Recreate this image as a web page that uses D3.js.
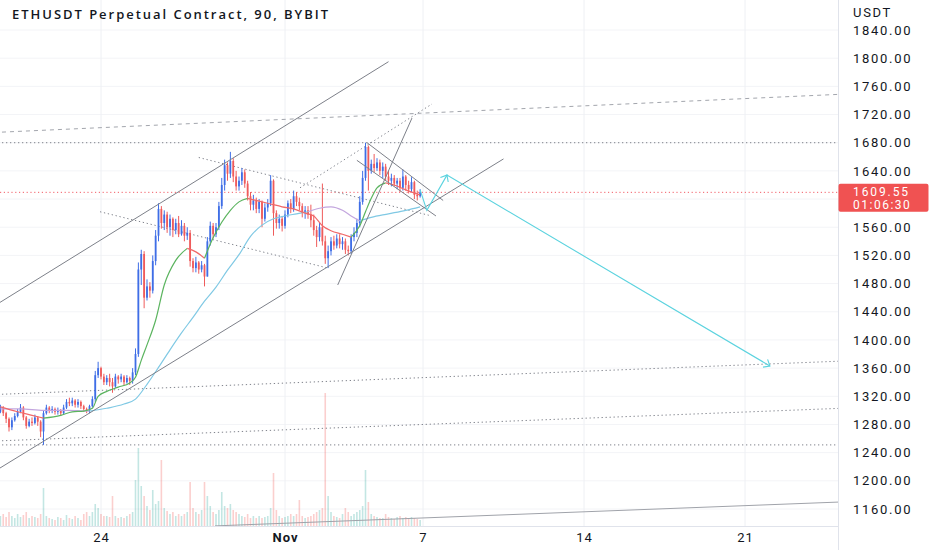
<!DOCTYPE html>
<html><head><meta charset="utf-8">
<script src="https://cdnjs.cloudflare.com/ajax/libs/d3/7.8.5/d3.min.js"></script>
<style>
html,body{margin:0;padding:0;background:#fff;}
svg{display:block;font-family:Roboto,"Liberation Sans",sans-serif;}
</style></head><body>
<svg id="c" width="932" height="550"></svg>
<script>
// ---------------- DATA ----------------
const chartTitle = "ETHUSDT Perpetual Contract, 90, BYBIT";
const currency = "USDT";
const lastPrice = 1609.55;
const countdown = "01:06:30";
const priceTicks = [1160,1200,1240,1280,1320,1360,1400,1440,1480,1520,1560,1640,1680,1720,1760,1800,1840];
const gridPrices = [1160,1200,1240,1280,1320,1360,1400,1440,1480,1520,1560,1600,1640,1680,1720,1760,1800,1840];
const timeTicks = ["2022-10-24T00:00Z","2022-11-01T00:00Z","2022-11-07T00:00Z","2022-11-14T00:00Z","2022-11-21T00:00Z"];
const timeTickLabels = ["24","Nov","7","14","21"];

const candleStart = "2022-10-19T12:00Z";   // candles every 3 hours
const candleStepHours = 3;
const firstOpen = 1302;
const candleClose = [
1298,1304,1296,1288,1276,1286,1292,1298,1304,1290,
1278,1284,1282,1290,1284,1270,1296,1304,1300,1302,
1298,1300,1296,1304,1312,1310,1314,1308,1312,1306,
1302,1300,1306,1316,1350,1360,1348,1340,1346,1340,
1334,1348,1344,1348,1340,1346,1342,1354,1380,1500,
1522,1460,1476,1470,1512,1548,1586,1566,1578,1560,
1572,1556,1566,1550,1562,1548,1552,1512,1502,1510,
1500,1506,1490,1540,1562,1550,1560,1590,1620,1648,
1636,1654,1632,1618,1626,1638,1622,1604,1592,1598,
1586,1596,1572,1588,1594,1626,1580,1566,1572,1562,
1578,1594,1586,1604,1596,1590,1580,1584,1578,1570,
1556,1546,1560,1540,1516,1526,1540,1534,1544,1536,
1540,1528,1526,1546,1552,1566,1596,1630,1674,1640,
1650,1644,1652,1640,1646,1632,1626,1630,1622,1626,
1616,1632,1620,1614,1624,1606,1604,1609.55];
const candleHigh = [
1306,1308,1306,1298,1290,1290,1296,1302,1309,1306,
1292,1288,1290,1294,1292,1286,1300,1308,1306,1306,
1304,1304,1302,1308,1316,1318,1318,1316,1316,1314,
1308,1304,1308,1320,1356,1369,1362,1352,1350,1352,
1346,1352,1350,1352,1350,1350,1348,1360,1388,1510,
1528,1526,1486,1482,1520,1556,1594,1590,1584,1582,
1578,1574,1572,1576,1570,1566,1560,1556,1516,1518,
1512,1512,1508,1546,1568,1566,1566,1596,1630,1656,
1652,1667,1658,1640,1632,1644,1642,1626,1610,1606,
1602,1600,1598,1594,1600,1634,1628,1584,1578,1576,
1584,1598,1600,1612,1610,1602,1594,1590,1590,1592,
1578,1562,1566,1622,1548,1534,1546,1548,1550,1550,
1546,1544,1534,1550,1560,1572,1604,1640,1680,1676,
1656,1664,1658,1656,1652,1650,1640,1636,1634,1630,
1630,1642,1634,1626,1631,1626,1612,1614];
const candleLow = [
1294,1296,1292,1282,1270,1272,1284,1290,1296,1286,
1274,1276,1278,1280,1278,1262,1251,1294,1296,1296,
1294,1294,1292,1294,1302,1306,1306,1304,1304,1302,
1298,1296,1296,1304,1312,1346,1344,1336,1336,1334,
1325,1332,1338,1340,1336,1338,1336,1338,1350,1376,
1478,1445,1456,1460,1466,1506,1540,1558,1556,1552,
1548,1546,1550,1546,1548,1540,1542,1504,1496,1496,
1494,1496,1476,1490,1534,1544,1546,1556,1586,1612,
1626,1630,1624,1612,1612,1620,1616,1598,1584,1584,
1580,1580,1560,1568,1582,1590,1548,1558,1558,1554,
1558,1574,1580,1582,1590,1584,1574,1572,1572,1560,
1548,1532,1540,1534,1508,1502,1520,1528,1530,1530,
1528,1522,1520,1522,1540,1546,1560,1592,1626,1612,
1636,1638,1640,1634,1630,1626,1620,1618,1618,1614,
1610,1612,1612,1608,1610,1600,1598,1602];
const candleVolume = [
8,10,12,9,14,10,8,12,9,11,
14,8,10,9,8,12,38,10,8,7,
6,9,8,6,11,8,7,10,8,6,
12,14,10,14,22,18,12,10,10,9,
30,10,8,9,8,10,12,14,46,78,
40,30,20,16,36,22,25,66,18,15,
12,14,10,12,10,12,14,44,18,14,
12,16,44,30,20,14,12,16,34,20,
18,22,16,14,12,10,9,12,8,10,
8,10,8,9,10,18,53,16,10,8,
9,10,12,10,12,26,10,8,9,10,
12,14,16,18,133,30,14,10,9,8,
12,18,14,10,12,14,16,20,56,24,
12,10,9,8,8,12,9,8,7,9,
10,8,9,8,9,8,7,6];

// fast moving average (coloured by direction)
const maFast = [
["2022-10-19T15:00Z",1305],["2022-10-20T09:00Z",1298],["2022-10-21T00:00Z",1293],["2022-10-21T12:00Z",1289],
["2022-10-22T06:00Z",1293],["2022-10-22T18:00Z",1298],["2022-10-23T06:00Z",1299],["2022-10-23T15:00Z",1303],
["2022-10-23T21:00Z",1320],["2022-10-24T06:00Z",1327],["2022-10-24T18:00Z",1333],["2022-10-25T06:00Z",1339],
["2022-10-25T12:00Z",1347],["2022-10-25T18:00Z",1371],["2022-10-26T00:00Z",1393],["2022-10-26T09:00Z",1428],
["2022-10-26T18:00Z",1478],["2022-10-27T06:00Z",1513],["2022-10-27T18:00Z",1530],["2022-10-28T03:00Z",1525],
["2022-10-28T12:00Z",1516],["2022-10-28T21:00Z",1545],["2022-10-29T06:00Z",1567],["2022-10-29T15:00Z",1584],
["2022-10-30T00:00Z",1596],["2022-10-30T09:00Z",1601],["2022-10-30T21:00Z",1597],["2022-10-31T09:00Z",1593],
["2022-10-31T21:00Z",1589],["2022-11-01T09:00Z",1586],["2022-11-01T21:00Z",1580],["2022-11-02T06:00Z",1576],
["2022-11-02T15:00Z",1562],["2022-11-03T00:00Z",1555],["2022-11-03T12:00Z",1550],["2022-11-03T21:00Z",1546],
["2022-11-04T06:00Z",1562],["2022-11-04T12:00Z",1582],["2022-11-04T18:00Z",1601],["2022-11-05T00:00Z",1616],
["2022-11-05T09:00Z",1623],["2022-11-05T18:00Z",1620],["2022-11-06T06:00Z",1613],["2022-11-06T21:00Z",1606]];
// slow moving average: parts drawn light blue (price above) and lavender (price below)
const maSlowAbove1 = [["2022-10-23T12:00Z",1299],["2022-10-24T06:00Z",1303],["2022-10-25T00:00Z",1309],["2022-10-25T12:00Z",1316],
["2022-10-26T00:00Z",1337],["2022-10-26T12:00Z",1361],["2022-10-27T00:00Z",1386],["2022-10-27T12:00Z",1410],
["2022-10-28T00:00Z",1432],["2022-10-28T12:00Z",1455],["2022-10-29T00:00Z",1475],["2022-10-29T12:00Z",1499],
["2022-10-30T00:00Z",1521],["2022-10-30T12:00Z",1547],["2022-10-31T00:00Z",1563],["2022-10-31T12:00Z",1572],
["2022-11-01T00:00Z",1576],["2022-11-01T12:00Z",1579],["2022-11-02T00:00Z",1582]];
const maSlowAbove2 = [["2022-11-04T06:00Z",1569],["2022-11-04T18:00Z",1574],["2022-11-05T12:00Z",1579],["2022-11-06T06:00Z",1584],["2022-11-06T21:00Z",1589]];
const maSlowBelow1 = [["2022-10-19T15:00Z",1302],["2022-10-20T12:00Z",1302],["2022-10-21T12:00Z",1300],["2022-10-22T12:00Z",1300],["2022-10-23T12:00Z",1299]];
const maSlowBelow2 = [["2022-11-02T00:00Z",1582],["2022-11-02T12:00Z",1587],["2022-11-03T00:00Z",1589],["2022-11-03T12:00Z",1584],["2022-11-03T21:00Z",1576],["2022-11-04T06:00Z",1569]];

// drawings (time, price)
const channelUpper = [["2022-10-19T00:00Z",1441],["2022-11-05T12:00Z",1795]];
const channelLower = [["2022-10-19T00:00Z",1206],["2022-11-10T12:00Z",1657]];
const steepLine    = [["2022-11-03T07:00Z",1478],["2022-11-06T12:30Z",1715]];
const wedgeUpper   = [["2022-11-04T13:36Z",1680],["2022-11-07T21:00Z",1598]];
const wedgeLower   = [["2022-11-04T03:00Z",1655],["2022-11-07T13:30Z",1576]];
const bottomLine   = [["2022-10-28T23:00Z",1136],["2022-11-26T00:00Z",1171]];
const dashedTop    = [["2022-10-19T00:00Z",1694],["2022-11-26T00:00Z",1750]];
const dottedLines  = [
 [["2022-10-28T06:00Z",1659],["2022-11-07T06:00Z",1577]],
 [["2022-10-23T23:00Z",1582],["2022-11-02T21:00Z",1502]],
 [["2022-11-01T15:40Z",1616],["2022-11-07T09:24Z",1735]],
 [["2022-10-19T00:00Z",1322],["2022-11-26T00:00Z",1371]],
 [["2022-10-19T00:00Z",1256],["2022-11-26T00:00Z",1304]],
 [["2022-10-19T00:00Z",1251],["2022-11-26T00:00Z",1251]],
 [["2022-10-19T00:00Z",1680],["2022-11-26T00:00Z",1680]]
];
const projection = [["2022-11-06T21:00Z",1613],["2022-11-07T04:00Z",1584],["2022-11-08T01:00Z",1634],["2022-11-22T02:00Z",1363]];

// ---------------- CHART ----------------
const W = 932, H = 550, plotW = 838, plotH = 526;
const svg = d3.select("#c");
const pd = s => new Date(s);

const x = d3.scaleUtc().domain([pd("2022-10-24T00:00Z"), pd("2022-11-21T00:00Z")]).range([101, 745]);
const y = d3.scaleLinear().domain([1160, 1840]).range([509, 30]);
const yv = d3.scaleLinear().domain([0, 140]).range([plotH, plotH - 140]);

svg.append("defs").append("clipPath").attr("id","plotclip")
  .append("rect").attr("x",0).attr("y",0).attr("width",plotW).attr("height",plotH);

const plot = svg.append("g").attr("clip-path","url(#plotclip)");

// grid
plot.append("g").selectAll("line").data(gridPrices).join("line")
  .attr("x1",0).attr("x2",plotW).attr("y1",d=>y(d)).attr("y2",d=>y(d))
  .attr("stroke","#f3f4f7").attr("stroke-width",1);
plot.append("g").selectAll("line").data(timeTicks).join("line")
  .attr("x1",d=>x(pd(d))).attr("x2",d=>x(pd(d))).attr("y1",0).attr("y2",plotH)
  .attr("stroke","#eef0f4").attr("stroke-width",1);

// candles
const t0 = pd(candleStart).getTime();
const candles = candleClose.map((c,i)=>{
  const o = i ? candleClose[i-1] : firstOpen;
  return {t:new Date(t0 + i*candleStepHours*3600e3), o, c,
          h:Math.max(candleHigh[i],o,c), l:Math.min(candleLow[i],o,c), v:candleVolume[i]};
});
const upCol = "#3f6ee6", dnCol = "#ef5b5b";

// volume
plot.append("g").selectAll("rect").data(candles).join("rect")
  .attr("x",d=>x(d.t)-0.8).attr("width",1.6)
  .attr("y",d=>yv(d.v)).attr("height",d=>plotH-yv(d.v))
  .attr("fill",d=>d.c>=d.o?"rgba(38,166,154,0.28)":"rgba(239,83,80,0.28)");

// drawings helpers
const lineGen = d3.line().x(d=>x(pd(d[0]))).y(d=>y(d[1]));
function drawLine(pts, stroke, dash, width){
  plot.append("path").attr("d",lineGen(pts)).attr("fill","none")
    .attr("stroke",stroke).attr("stroke-width",width||1)
    .attr("stroke-dasharray",dash||null);
}

// horizontal current-price dotted line
plot.append("line").attr("x1",0).attr("x2",plotW).attr("y1",y(lastPrice)).attr("y2",y(lastPrice))
  .attr("stroke","#f25c66").attr("stroke-width",1).attr("stroke-dasharray","1.2,2.6");

dottedLines.forEach(l=>drawLine(l,"#80838c","1.3,2.7",1));
drawLine(dashedTop,"#a3a6ad","4,4",1);
drawLine(bottomLine,"#a0a3aa",null,1);

// candles
const cg = plot.append("g");
cg.selectAll("line").data(candles).join("line")
  .attr("x1",d=>x(d.t)).attr("x2",d=>x(d.t))
  .attr("y1",d=>y(d.h)).attr("y2",d=>y(d.l))
  .attr("stroke",d=>d.c>=d.o?upCol:dnCol).attr("stroke-width",1);
cg.selectAll("rect").data(candles).join("rect")
  .attr("x",d=>x(d.t)-0.9).attr("width",1.8)
  .attr("y",d=>y(Math.max(d.o,d.c)))
  .attr("height",d=>Math.max(1,Math.abs(y(d.o)-y(d.c))))
  .attr("fill",d=>d.c>=d.o?upCol:dnCol);

// moving averages
const maLine = d3.line().x(d=>x(pd(d[0]))).y(d=>y(d[1])).curve(d3.curveMonotoneX);
[[maSlowBelow1,"#c3a6de"],[maSlowBelow2,"#c3a6de"],[maSlowAbove1,"#80c9e4"],[maSlowAbove2,"#80c9e4"]]
  .forEach(([pts,col])=>plot.append("path").attr("d",maLine(pts)).attr("fill","none")
    .attr("stroke",col).attr("stroke-width",1.2));
// fast MA runs by direction
let runs = [], cur = null;
for(let i=1;i<maFast.length;i++){
  const up = maFast[i][1] >= maFast[i-1][1];
  if(!cur || cur.up!==up){ cur = {up, pts:[maFast[i-1]]}; runs.push(cur); }
  cur.pts.push(maFast[i]);
}
runs.forEach(r=>plot.append("path").attr("d",maLine(r.pts)).attr("fill","none")
  .attr("stroke",r.up?"#5bb45f":"#f0696a").attr("stroke-width",1.2));

// solid gray drawings
[channelUpper, channelLower, steepLine, wedgeUpper, wedgeLower].forEach(l=>drawLine(l,"#7d8089",null,1));

// projection path with arrow heads
const projCol = "#5cd3df";
drawLine(projection, projCol, null, 1.1);
function arrowHead(a,b){
  const x1=x(pd(a[0])), y1=y(a[1]), x2=x(pd(b[0])), y2=y(b[1]);
  const ang = Math.atan2(y1-y2, x1-x2), L=7, s=0.7;
  const p = [[x2+L*Math.cos(ang+s), y2+L*Math.sin(ang+s)],[x2,y2],[x2+L*Math.cos(ang-s), y2+L*Math.sin(ang-s)]];
  plot.append("path").attr("d",d3.line()(p)).attr("fill","none").attr("stroke",projCol).attr("stroke-width",1.1);
}
arrowHead(projection[1],projection[2]);
arrowHead(projection[2],projection[3]);

// ---------------- AXES ----------------
svg.append("line").attr("x1",plotW+0.5).attr("x2",plotW+0.5).attr("y1",0).attr("y2",H).attr("stroke","#e0e3eb");
svg.append("line").attr("x1",0).attr("x2",plotW).attr("y1",plotH+0.5).attr("y2",plotH+0.5).attr("stroke","#e0e3eb");

const yAxis = d3.axisRight(y).tickValues(priceTicks).tickFormat(d3.format(".2f")).tickSize(0).tickPadding(15);
const ya = svg.append("g").attr("transform",`translate(${plotW},0)`).call(yAxis);
ya.select(".domain").remove();
ya.selectAll("text").attr("fill","#131722").style("font-size","13px").style("letter-spacing","1.7px")
  .style("font-family","Roboto, 'Liberation Sans', sans-serif");

svg.append("text").attr("x",853).attr("y",12).attr("dy","0.35em").text(currency)
  .attr("fill","#131722").style("font-size","13px").style("letter-spacing","1.7px");

const xAxis = d3.axisBottom(x).tickValues(timeTicks.map(pd)).tickFormat((d,i)=>timeTickLabels[i]).tickSize(0).tickPadding(7);
const xa = svg.append("g").attr("transform",`translate(0,${plotH})`).call(xAxis);
xa.select(".domain").remove();
xa.selectAll("text").attr("fill","#131722").style("font-size","13px").style("letter-spacing","1px")
  .style("font-family","Roboto, 'Liberation Sans', sans-serif")
  .style("font-weight",(d,i)=>timeTickLabels[i]==="Nov"?"700":"400");

// last price label
const py = y(lastPrice);
svg.append("rect").attr("x",plotW+0.5).attr("y",py-8.5).attr("width",90).attr("height",28).attr("rx",2).attr("fill","#f05252");
svg.append("text").attr("x",853).attr("y",py-0.5).attr("dy","0.35em").text(d3.format(".2f")(lastPrice))
  .attr("fill","#fff").style("font-size","12px").style("letter-spacing","1.9px");
svg.append("text").attr("x",853).attr("y",py+12.5).attr("dy","0.35em").text(countdown)
  .attr("fill","#fff").style("font-size","12px").style("letter-spacing","1.5px");

// title
svg.append("text").attr("x",12).attr("y",14).attr("dy","0.35em").text(chartTitle)
  .attr("fill","#131722").style("font-family","'Open Sans', sans-serif").style("font-weight","600")
  .style("font-size","13px").attr("textLength",316).attr("lengthAdjust","spacing");
</script>
</body></html>
